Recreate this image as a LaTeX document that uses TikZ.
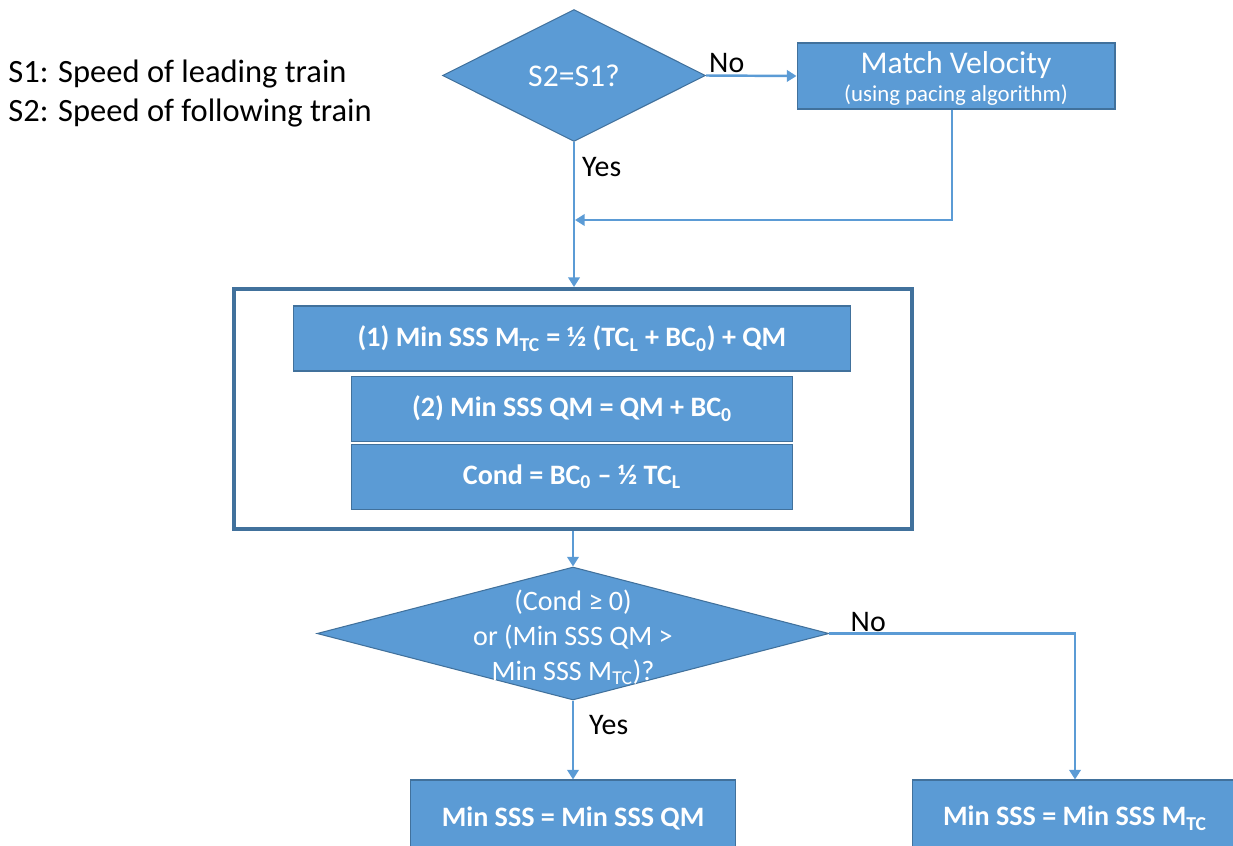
\documentclass[tikz,border=0pt]{standalone}
\usepackage{xcolor}
\usepackage{fontspec}
\setmainfont{Carlito}
\usepackage{tikz}
\usetikzlibrary{shapes.geometric, arrows.meta, positioning, calc}
\definecolor{flowfill}{HTML}{5B9BD5}
\definecolor{flowline}{HTML}{41719C}

\begin{document}
\begin{tikzpicture}[
  x=0.02cm, y=-0.02cm,
  process/.style={rectangle, draw=flowline, fill=flowfill, line width=0.6pt, text=white, align=center, inner sep=0pt, font=\bfseries\fontsize{16}{19}\selectfont},
  decision/.style={diamond, draw=flowline, fill=flowfill, line width=0.6pt, text=white, align=center, inner sep=0pt},
  outerbox/.style={rectangle, draw=flowline, line width=2.3pt, inner sep=0pt},
  arrow/.style={-{Triangle[width=6.5pt, length=5.5pt]}, line width=1.4pt, draw=flowfill},
  tag/.style={inner sep=0pt, text=black, font=\fontsize{17}{20}\selectfont},
  note/.style={inner sep=0pt, anchor=base west, font=\fontsize{18.5}{22}\selectfont}
]
\useasboundingbox (0,0) rectangle (1233,845);
\clip (0,0) rectangle (1233,845);

% Legend
\node[note] (legend1) at (8,82) {S1: Speed of leading train};
\node[note] (legend2) at (8,121) {S2: Speed of following train};

% Speed check
\node[decision, minimum width=5.26cm, minimum height=2.64cm, font=\fontsize{18}{21}\selectfont] (same) at (574,75.5) {S2=S1?};

% Match Velocity
\node[process, minimum width=6.36cm, minimum height=1.32cm] (match) at (956,76) {};
\node[text=white, align=center, inner sep=0pt, font=\fontsize{18}{15.5}\selectfont] (matchtext) at ([yshift=-0.05cm]match.center) {Match Velocity\\{\fontsize{13}{15.5}\selectfont (using pacing algorithm)}};

\coordinate (join) at (575,220);

% Frame around the formulas
\node[outerbox, minimum width=13.55cm, minimum height=4.8cm] (outer) at (573,409) {};

% Formulas
\node[process, minimum width=11.14cm, minimum height=1.3cm] (mtc) at (572,338.5) {(1) Min SSS M\textsubscript{TC} = ½ (TC\textsubscript{L} + BC\textsubscript{0}) + QM};
\node[process, minimum width=8.84cm, minimum height=1.3cm, below=0.08cm of mtc] (qm) {(2) Min SSS QM = QM + BC\textsubscript{0}};
\node[process, minimum width=8.84cm, minimum height=1.3cm, below=0.04cm of qm] (condbox) {Cond = BC\textsubscript{0} -- ½ TC\textsubscript{L}};

% Second decision
\node[decision, minimum width=10.24cm, minimum height=2.66cm] (check) at (573,633.5) {};
\node[text=white, align=center, inner sep=0pt, font=\fontsize{16}{19.8}\selectfont] (checktext) at ([yshift=-0.08cm]check.center) {(Cond ≥ 0)\\or (Min SSS QM >\\Min SSS M\textsubscript{TC})?};

% Outcomes
\node[process, minimum width=6.5cm, minimum height=1.52cm] (useqm) at (573,818) {Min SSS = Min SSS QM};
\node[process, minimum width=6.5cm, minimum height=1.52cm] (usemtc) at (1075,818) {Min SSS = Min SSS M\textsubscript{TC}};

% Arrows
\draw[arrow] (same.east) -- node[tag, pos=0, anchor=south west, xshift=0.04cm, yshift=0.04cm] (no1) {No} (match.west);
\draw[arrow] (same.south) -- node[tag, pos=0.095, anchor=north west, xshift=0.14cm] (yes1) {Yes} (same.south |- outer.north);
\draw[arrow] ([xshift=-0.08cm]match.south) |- (join);
\draw[arrow] (outer.south) -- (check.north);
\draw[arrow] (check.south) -- node[tag, pos=0.17, anchor=north west, xshift=0.3cm] (yes2) {Yes} (useqm.north);
\draw[arrow] (check.east) -| node[tag, pos=0, anchor=south west, xshift=0.4cm, yshift=0.02cm] (no2) {No} (usemtc.north);

\end{tikzpicture}
\end{document}
